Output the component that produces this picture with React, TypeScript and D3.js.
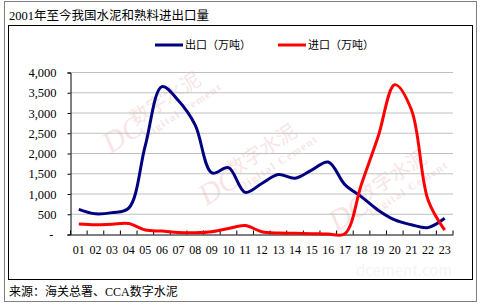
import { useEffect, useRef } from 'react'
import * as d3 from 'd3'

const years = ['01', '02', '03', '04', '05', '06', '07', '08', '09', '10', '11', '12', '13', '14', '15', '16', '17', '18', '19', '20', '21', '22', '23']
const exportValues = [620, 510, 540, 650, 2200, 3650, 3300, 2700, 1520, 1650, 1040, 1260, 1480, 1390, 1590, 1790, 1230, 930, 600, 360, 240, 170, 400]
const importValues = [260, 240, 255, 270, 110, 85, 50, 45, 70, 150, 220, 70, 35, 30, 20, 10, 20, 1250, 2420, 3700, 3080, 850, 110]
const yTicks = [0, 500, 1000, 1500, 2000, 2500, 3000, 3500, 4000]

const title = '2001年至今我国水泥和熟料进出口量'
const source = '来源：海关总署、CCA数字水泥'
const exportLabel = '出口（万吨）'
const importLabel = '进口（万吨）'

export default function App() {
  const svgRef = useRef<SVGSVGElement>(null)
  const width = 481
  const height = 306

  useEffect(() => {
    if (!svgRef.current) return
    const svg = d3.select(svgRef.current)
    svg.selectAll('*').remove()

    const left = 70.5, right = 453, top = 72.5, bottom = 234.5
    const serif = '"Liberation Serif", "Noto Sans CJK SC", serif'
    const cjk = '"Noto Sans CJK SC", sans-serif'

    // frames
    svg.append('rect').attr('width', width).attr('height', height).attr('fill', '#fff')
    svg.append('rect')
      .attr('x', 4.5).attr('y', 1.5).attr('width', 472).attr('height', 300)
      .attr('fill', 'none').attr('stroke', '#808080').attr('stroke-width', 1)
    svg.append('rect')
      .attr('x', 8.5).attr('y', 25.5).attr('width', 464).attr('height', 254)
      .attr('fill', 'none').attr('stroke', '#000').attr('stroke-width', 1)

    svg.append('text').attr('x', 9).attr('y', 19.5)
      .attr('font-family', serif).attr('font-size', 12.5).attr('fill', '#000')
      .text(title)
    svg.append('text').attr('x', 9).attr('y', 296)
      .attr('font-family', serif).attr('font-size', 12).attr('fill', '#000')
      .text(source)

    // faint watermarks
    const marks = [[118, 140], [214, 192], [344, 218]]
    marks.forEach(([mx, my]) => {
      const w = svg.append('g').attr('transform', `translate(${mx},${my}) rotate(-33)`)
        .attr('opacity', 0.1).attr('fill', '#c00000')
      w.append('text').attr('x', -14).attr('y', 8).attr('font-family', serif)
        .attr('font-size', 30).attr('font-style', 'italic').text('DC')
      w.append('text').attr('x', 22).attr('y', -2).attr('font-family', cjk)
        .attr('font-size', 20).text('数字水泥')
      w.append('text').attr('x', 24).attr('y', 14).attr('font-family', serif)
        .attr('font-size', 11).attr('font-weight', 'bold').attr('letter-spacing', 1.5).text('Digital Cement')
    })
    svg.append('text').attr('x', 356).attr('y', 276).attr('font-family', cjk)
      .attr('font-size', 15).attr('fill', '#000').attr('opacity', 0.04).text('dcement.com')

    const x = d3.scaleBand().domain(years).range([left, right])
    const y = d3.scaleLinear().domain([0, 4000]).range([bottom, top])

    // gridlines
    svg.append('g').selectAll('line')
      .data(yTicks.filter(d => d > 0))
      .enter().append('line')
      .attr('x1', left).attr('x2', right)
      .attr('y1', d => y(d)).attr('y2', d => y(d))
      .attr('stroke', '#c0c0c0').attr('stroke-width', 1)

    // y axis
    const yAxis = svg.append('g')
      .attr('transform', `translate(${left},0)`)
      .call(d3.axisLeft(y).tickValues(yTicks).tickSize(3).tickPadding(11)
        .tickFormat(d => (+d === 0 ? '-' : d3.format(',')(+d))))
    yAxis.select('.domain').attr('stroke', '#000')
    yAxis.selectAll('text')
      .attr('font-family', serif).attr('font-size', 12.5).attr('fill', '#000')
    yAxis.selectAll('.tick text').filter(d => +d === 0).attr('dx', -3)

    // x axis
    const xAxis = svg.append('g')
      .attr('transform', `translate(0,${bottom})`)
      .call(d3.axisBottom(x).tickSize(0).tickPadding(11))
    xAxis.select('.domain').attr('stroke', '#000')
    xAxis.selectAll('text')
      .attr('font-family', serif).attr('font-size', 12).attr('fill', '#000')
    xAxis.selectAll('.bound')
      .data(d3.range(years.length + 1))
      .enter().append('line')
      .attr('x1', i => left + i * x.step()).attr('x2', i => left + i * x.step())
      .attr('y1', 0).attr('y2', -4)
      .attr('stroke', '#000')

    const cx = (i: number) => (x(years[i]) as number) + x.bandwidth() / 2
    const line = d3.line<number>()
      .x((_, i) => cx(i))
      .y(d => y(d))
      .curve(d3.curveCatmullRom.alpha(0.5))

    svg.append('path').datum(exportValues)
      .attr('fill', 'none').attr('stroke', '#000080').attr('stroke-width', 3)
      .attr('d', line)
    svg.append('path').datum(importValues)
      .attr('fill', 'none').attr('stroke', '#ff0000').attr('stroke-width', 3)
      .attr('d', line)

    // legend
    const legend = [
      { label: exportLabel, color: '#000080', x: 155 },
      { label: importLabel, color: '#ff0000', x: 278 },
    ]
    legend.forEach(l => {
      svg.append('line')
        .attr('x1', l.x).attr('x2', l.x + 28).attr('y1', 45).attr('y2', 45)
        .attr('stroke', l.color).attr('stroke-width', 3)
      svg.append('text').attr('x', l.x + 30).attr('y', 49)
        .attr('font-family', cjk).attr('font-size', 11).attr('fill', '#000')
        .text(l.label)
    })
  }, [])

  return (
    <div style={{ position: 'fixed', left: 0, top: 0 }}>
      <svg ref={svgRef} width={width} height={height} style={{ display: 'block' }} />
    </div>
  )
}
